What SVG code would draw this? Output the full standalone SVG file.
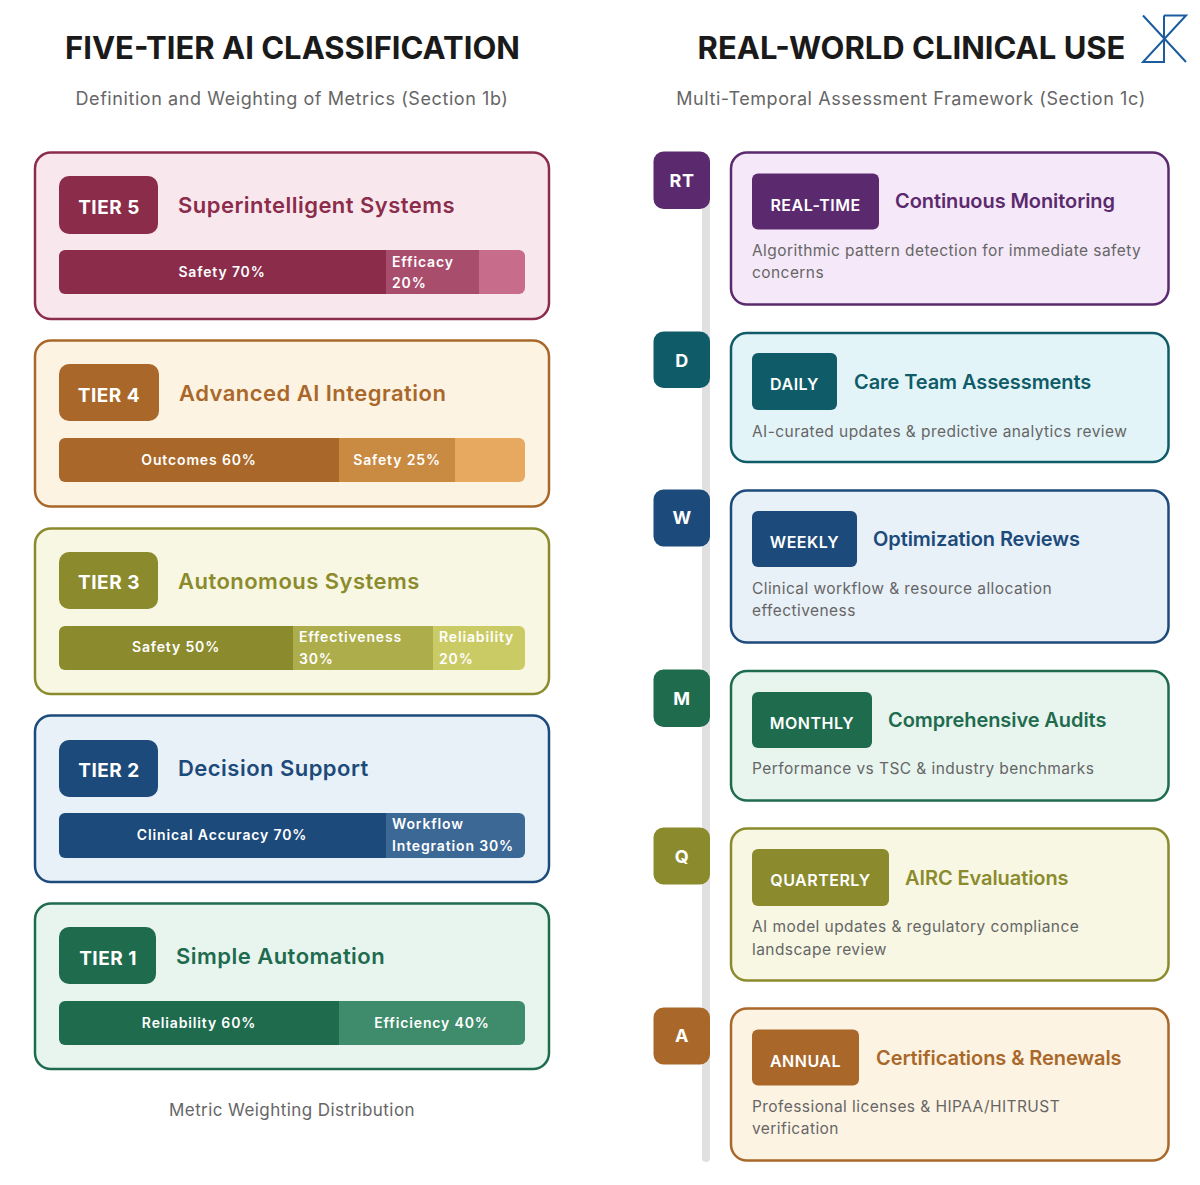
<svg xmlns="http://www.w3.org/2000/svg" width="1200" height="1185" viewBox="0 0 1200 1185">
<style>
text{font-family:Inter,"Liberation Sans",sans-serif}
.h{font-size:31px;font-weight:700;fill:#1a1a1a;text-anchor:middle}
.s{font-size:18px;fill:#666;text-anchor:middle;letter-spacing:.58px}
.c{font-size:17px;fill:#666;text-anchor:middle;letter-spacing:.43px}
.card{stroke-width:2.5}
.tb{font-size:19px;font-weight:700;fill:#fff;text-anchor:middle;letter-spacing:.5px}
.tt{font-size:22px;font-weight:600;letter-spacing:.47px}
.b{font-size:14px;font-weight:600;fill:#fff;letter-spacing:.85px}
.m{text-anchor:middle}
.rb{font-size:16px;font-weight:600;fill:#fff;text-anchor:middle;letter-spacing:.5px}
.rt{font-size:20px;font-weight:600;letter-spacing:-.08px}
.d{font-size:15.5px;fill:#666;letter-spacing:.43px}
.mk{font-size:18px;font-weight:700;fill:#fff;text-anchor:middle;letter-spacing:.5px}
</style>
<rect width="1200" height="1185" fill="#fff"/>
<g id="header-left">
<text class="h" x="292.500" y="59">FIVE-TIER AI CLASSIFICATION</text>
<text class="s" x="292" y="105">Definition and Weighting of Metrics (Section 1b)</text>
</g>
<g id="header-right">
<text class="h" x="911.500" y="59">REAL-WORLD CLINICAL USE</text>
<text class="s" x="911" y="105">Multi-Temporal Assessment Framework (Section 1c)</text>
</g>
<g id="logo" fill="none" stroke="#1b5c9e" stroke-width="2"><path d="M1143 15.500L1186 62M1164 15.500H1186L1143 62H1164V15.500"/></g>

<g id="tier5">
<rect class="card" x="35" y="152.500" width="514" height="166.500" rx="16" fill="#f8e8ee" stroke="#8b2c4b"/>
<rect x="59" y="176" width="99" height="58" rx="10" fill="#8b2c4b"/>
<text class="tb" x="109" y="214">TIER 5</text>
<text class="tt" x="178" y="213" fill="#8b2c4b">Superintelligent Systems</text>
<path d="M65 250H386V294H65a6 6 0 0 1-6-6V256a6 6 0 0 1 6-6z" fill="#8b2c4b"/>
<rect x="386" y="250" width="93" height="44" fill="#a94d6c"/>
<path d="M479 250H519a6 6 0 0 1 6 6V288a6 6 0 0 1-6 6H479z" fill="#c76d8b"/>
<text class="b m" x="222" y="277">Safety 70%</text>
<text class="b" x="392" y="267">Efficacy</text><text class="b" x="392" y="288">20%</text>
</g>
<g id="tier4">
<rect class="card" x="35" y="340.500" width="514" height="166" rx="16" fill="#fdf3e3" stroke="#a9682a"/>
<rect x="59" y="364" width="100" height="57" rx="10" fill="#a9682a"/>
<text class="tb" x="109" y="402">TIER 4</text>
<text class="tt" x="179" y="401" fill="#a9682a">Advanced AI Integration</text>
<path d="M65 438H339V482H65a6 6 0 0 1-6-6V444a6 6 0 0 1 6-6z" fill="#a9682a"/>
<rect x="339" y="438" width="116" height="44" fill="#c98a42"/>
<path d="M455 438H519a6 6 0 0 1 6 6V476a6 6 0 0 1-6 6H455z" fill="#e7a860"/>
<text class="b m" x="199" y="465">Outcomes 60%</text>
<text class="b m" x="397" y="465">Safety 25%</text>
</g>
<g id="tier3">
<rect class="card" x="35" y="528.500" width="514" height="165.500" rx="16" fill="#f7f7e3" stroke="#8b8b2e"/>
<rect x="59" y="552" width="99" height="57" rx="10" fill="#8b8b2e"/>
<text class="tb" x="109" y="589">TIER 3</text>
<text class="tt" x="178" y="589" fill="#8b8b2e">Autonomous Systems</text>
<path d="M65 626H293V670H65a6 6 0 0 1-6-6V632a6 6 0 0 1 6-6z" fill="#8b8b2e"/>
<rect x="293" y="626" width="140" height="44" fill="#adad4b"/>
<path d="M433 626H519a6 6 0 0 1 6 6V664a6 6 0 0 1-6 6H433z" fill="#cbcb66"/>
<text class="b m" x="176" y="652">Safety 50%</text>
<text class="b" x="299" y="642">Effectiveness</text><text class="b" x="299" y="664">30%</text>
<text class="b" x="439" y="642">Reliability</text><text class="b" x="439" y="664">20%</text>
</g>
<g id="tier2">
<rect class="card" x="35" y="715.500" width="514" height="166.500" rx="16" fill="#e8f0f8" stroke="#1c4a7a"/>
<rect x="59" y="740" width="99" height="57" rx="10" fill="#1c4a7a"/>
<text class="tb" x="109" y="777">TIER 2</text>
<text class="tt" x="178" y="776" fill="#1c4a7a">Decision Support</text>
<path d="M65 813H386V858H65a6 6 0 0 1-6-6V819a6 6 0 0 1 6-6z" fill="#1c4a7a"/>
<path d="M386 813H519a6 6 0 0 1 6 6V852a6 6 0 0 1-6 6H386z" fill="#3c6896"/>
<text class="b m" x="222" y="840">Clinical Accuracy 70%</text>
<text class="b" x="392" y="829">Workflow</text><text class="b" x="392" y="851">Integration 30%</text>
</g>
<g id="tier1">
<rect class="card" x="35" y="903.500" width="514" height="165.500" rx="16" fill="#e8f4ee" stroke="#1e6b4e"/>
<rect x="59" y="927" width="97" height="57" rx="10" fill="#1e6b4e"/>
<text class="tb" x="108" y="965">TIER 1</text>
<text class="tt" x="176" y="964" fill="#1e6b4e">Simple Automation</text>
<path d="M65 1001H339V1045H65a6 6 0 0 1-6-6V1007a6 6 0 0 1 6-6z" fill="#1e6b4e"/>
<path d="M339 1001H519a6 6 0 0 1 6 6V1039a6 6 0 0 1-6 6H339z" fill="#3e8c6c"/>
<text class="b m" x="199" y="1028">Reliability 60%</text>
<text class="b m" x="432" y="1028">Efficiency 40%</text>
</g>
<text class="c" x="292" y="1116">Metric Weighting Distribution</text>

<g id="connectors"><path d="M706 200V1158" stroke="#e0e0e0" stroke-width="8" fill="none" stroke-linecap="round"/></g>

<g id="rt">
<rect x="653.500" y="151.500" width="56.500" height="57.500" rx="10" fill="#5b2a6e"/><text class="mk" x="682" y="187">RT</text>
<rect class="card" x="731" y="152.500" width="437.500" height="152" rx="16" fill="#f5e8f8" stroke="#5b2a6e"/>
<rect x="752" y="173.500" width="127" height="56" rx="6" fill="#5b2a6e"/>
<text class="rb" x="815.500" y="211">REAL-TIME</text>
<text class="rt" x="895" y="208" fill="#5b2a6e">Continuous Monitoring</text>
<text class="d" x="752" y="256">Algorithmic pattern detection for immediate safety</text><text class="d" x="752" y="278">concerns</text>
</g>
<g id="d">
<rect x="653.500" y="331.500" width="56.500" height="56.500" rx="10" fill="#0f5c68"/><text class="mk" x="682" y="367">D</text>
<rect class="card" x="731" y="333" width="437.500" height="129" rx="16" fill="#e3f4f8" stroke="#0f5c68"/>
<rect x="752" y="353" width="85" height="57" rx="6" fill="#0f5c68"/>
<text class="rb" x="794.500" y="390">DAILY</text>
<text class="rt" x="854" y="389" fill="#0f5c68">Care Team Assessments</text>
<text class="d" x="752" y="437">AI-curated updates &amp; predictive analytics review</text>
</g>
<g id="w">
<rect x="653.500" y="489.500" width="56.500" height="57" rx="10" fill="#1c4a7a"/><text class="mk" x="682" y="524">W</text>
<rect class="card" x="731" y="490.500" width="437.500" height="152" rx="16" fill="#e8f0f8" stroke="#1c4a7a"/>
<rect x="752" y="511" width="105" height="56" rx="6" fill="#1c4a7a"/>
<text class="rb" x="804.500" y="548">WEEKLY</text>
<text class="rt" x="873" y="546" fill="#1c4a7a">Optimization Reviews</text>
<text class="d" x="752" y="594">Clinical workflow &amp; resource allocation</text><text class="d" x="752" y="616">effectiveness</text>
</g>
<g id="m">
<rect x="653.500" y="669.500" width="56.500" height="57.500" rx="10" fill="#1e6b4e"/><text class="mk" x="682" y="705">M</text>
<rect class="card" x="731" y="671" width="437.500" height="129.500" rx="16" fill="#e8f4ee" stroke="#1e6b4e"/>
<rect x="752" y="692" width="120" height="56" rx="6" fill="#1e6b4e"/>
<text class="rb" x="812" y="729">MONTHLY</text>
<text class="rt" x="888" y="727" fill="#1e6b4e">Comprehensive Audits</text>
<text class="d" x="752" y="774">Performance vs TSC &amp; industry benchmarks</text>
</g>
<g id="q">
<rect x="653.500" y="827.500" width="56.500" height="57" rx="10" fill="#8b8b2e"/><text class="mk" x="682" y="863">Q</text>
<rect class="card" x="731" y="828.500" width="437.500" height="152" rx="16" fill="#f7f7e3" stroke="#8b8b2e"/>
<rect x="752" y="849" width="137" height="57" rx="6" fill="#8b8b2e"/>
<text class="rb" x="820.500" y="886">QUARTERLY</text>
<text class="rt" x="905" y="885" fill="#8b8b2e">AIRC Evaluations</text>
<text class="d" x="752" y="932">AI model updates &amp; regulatory compliance</text><text class="d" x="752" y="955">landscape review</text>
</g>
<g id="a">
<rect x="653.500" y="1007.500" width="56.500" height="57" rx="10" fill="#a9682a"/><text class="mk" x="682" y="1042">A</text>
<rect class="card" x="731" y="1008.500" width="437.500" height="152" rx="16" fill="#fdf3e3" stroke="#a9682a"/>
<rect x="752" y="1029.500" width="107" height="56" rx="6" fill="#a9682a"/>
<text class="rb" x="805.500" y="1067">ANNUAL</text>
<text class="rt" x="876" y="1065" fill="#a9682a">Certifications &amp; Renewals</text>
<text class="d" x="752" y="1112">Professional licenses &amp; HIPAA/HITRUST</text><text class="d" x="752" y="1134">verification</text>
</g>
</svg>
